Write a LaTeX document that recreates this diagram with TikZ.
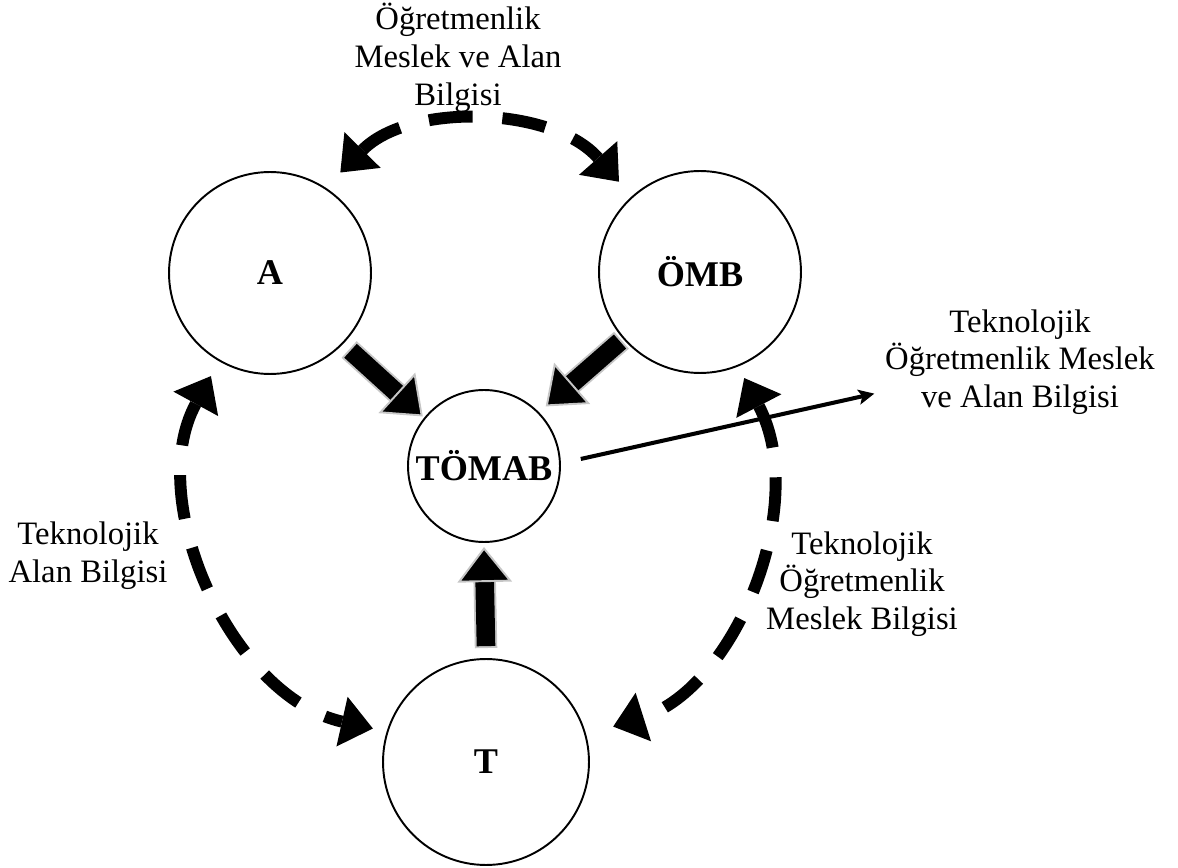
\documentclass[tikz,border=0pt]{standalone}
\usepackage{fontspec}
\setmainfont{Liberation Serif}
\usetikzlibrary{arrows.meta}

\begin{document}
\begin{tikzpicture}
[
	              x = 0.02cm,
	              y = -0.02cm,
	           font = \fontsize{18.6}{21.5}\selectfont,
	  vertex/.style = { draw=black, circle, line width=1.1pt, inner sep=0pt, font=\fontsize{20.6}{22}\selectfont\bfseries },
	     lbl/.style = { align=center, inner sep=0pt },
	dasharrow/.style = { line width=6.8pt, dash pattern=on 25pt off 17pt,
	                     {Triangle[length=18pt,width=29pt,line width=0pt]}-{Triangle[length=18pt,width=29pt,line width=0pt]} },
	blockarrow/.style = { line width=10.6pt, -{Triangle[length=20pt,width=31pt,line width=1.1pt,color=gray!45,fill=black]},
	                      preaction={draw=gray!45, line width=12.8pt, -, shorten >=18pt, shorten <=-1.1pt} },
	thinarrow/.style = { line width=2.3pt, -{Stealth[length=9pt,width=8.5pt,inset=2pt]} }
]
	\useasboundingbox (0,0) rectangle (1178,868);

	% nodes
	\node (A)     at (270,273) [vertex, minimum size=4.04cm] {A};
	\node (OMB)   at (700,272) [vertex, minimum size=4.04cm] {ÖMB};
	\node (TOMAB) at (484,466) [vertex, minimum size=3.04cm] {TÖMAB};
	\node (T)     at (486,762) [vertex, minimum size=4.12cm] {T};

	\node (ustlbl)   at (458,58)   [lbl] {Öğretmenlik\\Meslek ve Alan\\Bilgisi};
	\node (sollbl)   at (88,556)   [lbl] {Teknolojik\\Alan Bilgisi};
	\node (saglbl)   at (862,584)  [lbl] {Teknolojik\\Öğretmenlik\\Meslek Bilgisi};
	\node (tomablbl) at (1020,362) [lbl] {Teknolojik\\Öğretmenlik Meslek\\ve Alan Bilgisi};

	% edges
	\draw [blockarrow] ([shift={(-44:5.7pt)}]A.-44) -- ([shift={(141:1pt)}]TOMAB.141);
	\draw [blockarrow] ([shift={(221:2.3pt)}]OMB.221) -- ([shift={(44:5pt)}]TOMAB.44);
	\draw [blockarrow] ([yshift=6.8pt]T.north) -- ([yshift=-2.3pt]TOMAB.south);

	\draw [dasharrow, shorten <=12pt, shorten >=11pt]  (A.57)   to [bend left=47]  (OMB.132);
	\draw [dasharrow, shorten <=9.6pt, shorten >=8pt]  (A.240)  to [bend right=53] (T.163);
	\draw [dasharrow, shorten <=7.4pt, shorten >=16pt] (OMB.292) to [bend left=50] (T.15);

	\draw [thinarrow] ([shift={(11.3pt,4pt)}]TOMAB.east) -- ([shift={(-6pt,-18pt)}]tomablbl.west);

\end{tikzpicture}
\end{document}
